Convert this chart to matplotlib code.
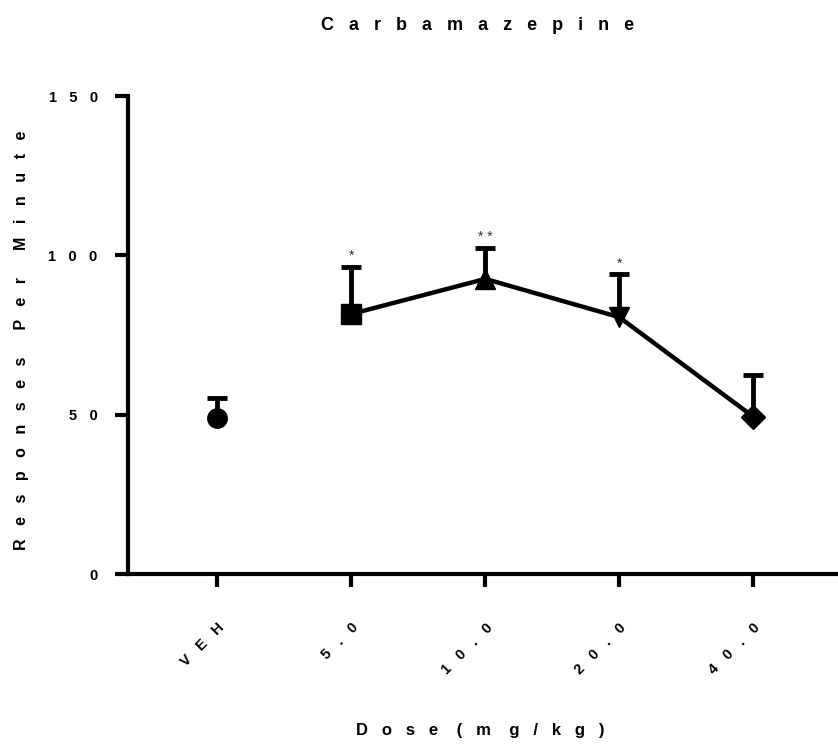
import matplotlib
matplotlib.use('Agg')
import matplotlib.pyplot as plt
import numpy as np

plt.rcParams['font.family'] = ['Liberation Sans', 'DejaVu Sans']
plt.rcParams['font.weight'] = 'bold'

# data
doses = ['VEH', '5.0', '10.0', '20.0', '40.0']
means = [48.9, 81.6, 92.6, 80.6, 49.4]
upper = [55.1, 96.2, 102.4, 94.0, 62.6]   # top of the error bar
stars = ['', '*', '**', '*', '']
markers = ['o', 's', '^', 'v', 'D']
msizes = [14, 14, 15, 15, 12]


def spaced(s, gap=3, wgap=6):
    # prism style letter spacing
    return (' ' * wgap).join((' ' * gap).join(w) for w in s.split())


W, H = 838, 745
fig = plt.figure(figsize=(W / 100, H / 100), dpi=100)
ax = fig.add_axes([127.5 / W, 1 - 574 / H, 1 - 127.5 / W, (574 - 96) / H])

x = np.arange(len(doses))

# upper-only error bars
ax.vlines(x, means, upper, color='black', lw=3.5, zorder=2)
ax.plot(x, upper, ls='none', marker='_', ms=15, mew=3.5, color='black', zorder=2)
# the line joins the drug doses only
ax.plot(x[1:], means[1:], color='black', lw=3.2, zorder=3)
for xi, m, mk, ms in zip(x, means, markers, msizes):
    ax.plot(xi, m, marker=mk, ms=ms, color='black', zorder=4)

for xi, u, s in zip(x, upper, stars):
    if s:
        ax.annotate(' '.join(s), (xi, u), xytext=(0, 3), textcoords='offset points',
                    ha='center', va='bottom', fontsize=10, fontweight='normal',
                    color='#333333')

ax.set_xlim(-0.672, 4.634)
ax.set_ylim(0, 150)
ax.set_yticks([0, 50, 100, 150])
ax.set_yticklabels([spaced(str(v)) for v in [0, 50, 100, 150]])
ax.set_xticks(x)
ax.set_xticklabels([spaced(d) for d in doses], rotation=45, ha='right', va='top',
                   rotation_mode='anchor', fontsize=10.5)

for side in ['top', 'right']:
    ax.spines[side].set_visible(False)
for side in ['left', 'bottom']:
    ax.spines[side].set_linewidth(3)
ax.tick_params(axis='both', length=9.5, width=3, labelsize=10.5)
ax.tick_params(axis='y', pad=12)
ax.tick_params(axis='x', pad=24)

fig.text(478 / W, 1 - 25 / H, spaced('Carbamazepine'), ha='center', va='center',
         fontsize=13, fontweight='bold')
fig.text(480 / W, 1 - 730 / H, spaced('Dose (m g/kg)', wgap=4), ha='center',
         va='center', fontsize=12, fontweight='bold')
fig.text(22 / W, 1 - 340 / H, spaced('Responses Per Minute'), ha='center', va='center',
         rotation=90, fontsize=11.5, fontweight='bold')

fig.savefig('out.png', dpi=100)
